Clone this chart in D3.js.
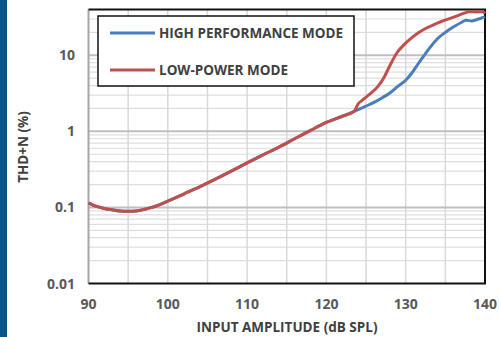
<!DOCTYPE html>
<html>
<head>
<meta charset="utf-8">
<script src="https://cdn.jsdelivr.net/npm/d3@7"></script>
<style>
  body { margin: 0; background: #fff; }
  svg { display: block; }
  text { font-family: "Open Sans", "Liberation Sans", sans-serif; font-weight: bold; }
</style>
</head>
<body>
<svg id="chart" width="499" height="337"></svg>
<script>
// shared part of both curves (dB SPL -> THD+N %)
const sharedDb  = [90, 91, 92, 93, 94, 95, 96, 97, 98, 99, 100, 102, 104, 106, 108, 110, 112, 114, 116, 118, 120, 122, 123.5];
const sharedVal = [0.115, 0.103, 0.097, 0.093, 0.090, 0.089, 0.090, 0.094, 0.100, 0.109, 0.121, 0.150, 0.186, 0.235, 0.30, 0.385, 0.49, 0.62, 0.80, 1.03, 1.31, 1.58, 1.83];

const highDb  = [124, 125, 126, 127, 128, 129, 130, 130.8, 131.6, 132.4, 133.2, 134, 135, 136, 137, 137.6, 138.3, 139, 139.8, 140];
const highVal = [1.93, 2.15, 2.4, 2.75, 3.2, 3.9, 4.7, 5.9, 7.8, 10.2, 13.2, 16.5, 20, 23.5, 27, 28.8, 28.3, 29.5, 31.5, 32];

const lowDb  = [124, 124.5, 125.5, 126.5, 127.3, 128, 128.9, 129.8, 130.7, 131.6, 132.5, 133.5, 134.5, 135.6, 136.5, 137.3, 138, 139, 139.7, 140];
const lowVal = [2.3, 2.55, 3.1, 3.9, 5.2, 7.3, 10.8, 13.8, 16.8, 19.8, 22.5, 25.2, 27.8, 30.5, 33, 35.5, 37.3, 37.2, 37.5, 35.5];

const xTicks = [90, 100, 110, 120, 130, 140];
const yTicks = [0.01, 0.1, 1, 10];
const seriesNames = ["HIGH PERFORMANCE MODE", "LOW-POWER MODE"];
const seriesColors = ["#4a7ebb", "#c0504d"];

const svg = d3.select("#chart");
const margin = { left: 88.5, right: 14, top: 9.5, bottom: 53.5 };
const W = 499, H = 337;

// dark strip on the left edge
svg.append("rect").attr("x", 0).attr("y", 0).attr("width", 7).attr("height", H).attr("fill", "#0b5486");

const x = d3.scaleLinear().domain([90, 140]).range([margin.left, W - margin.right]);
const y = d3.scaleLog().domain([0.01, 40]).range([H - margin.bottom, margin.top]);

// grid
const g = svg.append("g");
const minor = [];
[0.01, 0.1, 1, 10].forEach(d => { for (let k = 2; k <= 9; k++) if (d * k < 40) minor.push(d * k); });
g.selectAll(".minor").data(minor).enter().append("line")
  .attr("x1", x(90)).attr("x2", x(140))
  .attr("y1", d => y(d)).attr("y2", d => y(d))
  .attr("stroke", "#dedede").attr("stroke-width", 1.2);
g.selectAll(".vgrid").data(d3.range(95, 140, 5)).enter().append("line")
  .attr("x1", d => x(d)).attr("x2", d => x(d))
  .attr("y1", y(0.01)).attr("y2", y(40))
  .attr("stroke", "#d9d9d9").attr("stroke-width", 1.5);
g.selectAll(".major").data([0.1, 1, 10]).enter().append("line")
  .attr("x1", x(90)).attr("x2", x(140))
  .attr("y1", d => y(d)).attr("y2", d => y(d))
  .attr("stroke", "#bfbfbf").attr("stroke-width", 2);

// frame
svg.append("line").attr("x1", x(90)).attr("x2", x(90)).attr("y1", y(40)).attr("y2", y(0.01))
  .attr("stroke", "#a6a6a6").attr("stroke-width", 2);
svg.append("path")
  .attr("d", `M${x(90)},${y(40)}H${x(140)}V${y(0.01)}H${x(90)}`)
  .attr("fill", "none").attr("stroke", "#111").attr("stroke-width", 2);

// curves
const line = d3.line().x(d => x(d[0])).y(d => y(d[1])).curve(d3.curveMonotoneX);
const shared = sharedDb.map((d, i) => [d, sharedVal[i]]);
const high = shared.concat(highDb.map((d, i) => [d, highVal[i]]));
const low = shared.concat(lowDb.map((d, i) => [d, lowVal[i]]));
svg.append("path").datum(high).attr("d", line).attr("fill", "none")
  .attr("stroke", seriesColors[0]).attr("stroke-width", 3);
svg.append("path").datum(low).attr("d", line).attr("fill", "none")
  .attr("stroke", seriesColors[1]).attr("stroke-width", 3);

// tick labels
svg.selectAll(".xl").data(xTicks).enter().append("text")
  .attr("x", d => x(d)).attr("y", 309).attr("text-anchor", "middle")
  .attr("font-size", 14).attr("fill", "#595959").text(d => d);
svg.selectAll(".yl").data(yTicks).enter().append("text")
  .attr("x", 75).attr("y", d => y(d) + 5).attr("text-anchor", "end")
  .attr("font-size", 14).attr("fill", "#595959").text(d => d);

// axis titles
svg.append("text").attr("x", 287).attr("y", 331.5).attr("text-anchor", "middle")
  .attr("font-size", 13.5).attr("fill", "#404040").text("INPUT AMPLITUDE (dB SPL)");
svg.append("text").attr("transform", "translate(28,147) rotate(-90)").attr("text-anchor", "middle")
  .attr("font-size", 13.5).attr("fill", "#404040").text("THD+N (%)");

// legend
const lg = svg.append("g");
lg.append("rect").attr("x", 98).attr("y", 16).attr("width", 256).attr("height", 70)
  .attr("fill", "#fff").attr("stroke", "#111").attr("stroke-width", 1.5);
seriesNames.forEach((name, i) => {
  const ly = 33 + i * 37;
  lg.append("line").attr("x1", 110).attr("x2", 155).attr("y1", ly).attr("y2", ly)
    .attr("stroke", seriesColors[i]).attr("stroke-width", 3);
  lg.append("text").attr("x", 159).attr("y", ly + 5).attr("font-size", 13.5)
    .attr("fill", "#404040").text(name);
});
</script>
</body>
</html>
